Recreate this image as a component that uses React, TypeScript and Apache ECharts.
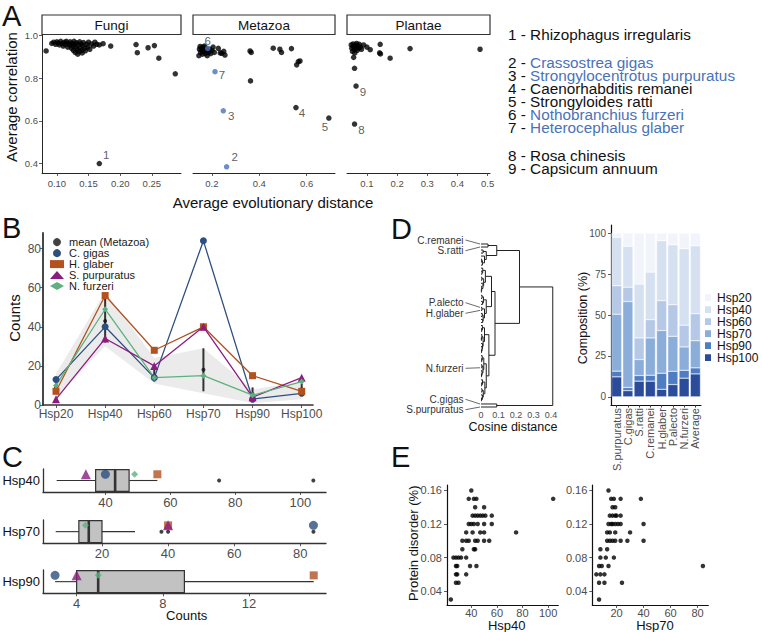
import React, { useEffect, useRef } from "react";
import * as echarts from "echarts";

const FONT = '"Liberation Sans", Arial, Helvetica, sans-serif';
const LABEL_GRAY = "#4d4d4d";
const AXIS_DARK = "#262626";
const BLUE = "#4a72b8";

// ---------------- Panel A data ----------------
const fungiPoints = [
  [0.083, 0.927], [0.092, 0.962], [0.095, 0.968], [0.098, 0.958], [0.1, 0.97], [0.102, 0.964], [0.104, 0.955],
  [0.106, 0.972], [0.108, 0.962], [0.11, 0.95], [0.112, 0.968], [0.113, 0.958], [0.115, 0.972], [0.117, 0.945],
  [0.118, 0.963], [0.12, 0.955], [0.121, 0.97], [0.123, 0.94], [0.124, 0.962], [0.125, 0.95], [0.126, 0.93],
  [0.127, 0.972], [0.128, 0.958], [0.129, 0.92], [0.13, 0.945], [0.131, 0.965], [0.132, 0.935], [0.133, 0.912],
  [0.134, 0.955], [0.135, 0.925], [0.136, 0.97], [0.137, 0.94], [0.138, 0.96], [0.139, 0.93], [0.14, 0.918],
  [0.141, 0.952], [0.142, 0.966], [0.144, 0.94], [0.145, 0.928], [0.147, 0.958], [0.149, 0.945], [0.15, 0.968],
  [0.152, 0.935], [0.155, 0.96], [0.158, 0.95], [0.16, 0.968], [0.163, 0.958],
  [0.167, 0.955], [0.173, 0.961], [0.185, 0.95], [0.225, 0.957], [0.227, 0.919], [0.244, 0.942],
  [0.254, 0.952], [0.261, 0.893], [0.287, 0.82],
];
const metazoaPoints = [
  [0.145, 0.905], [0.147, 0.935], [0.15, 0.948], [0.152, 0.92], [0.155, 0.94], [0.158, 0.93], [0.16, 0.912],
  [0.162, 0.945], [0.165, 0.925], [0.168, 0.95], [0.17, 0.935], [0.172, 0.915], [0.175, 0.94], [0.178, 0.928],
  [0.18, 0.905], [0.186, 0.92], [0.19, 0.935], [0.195, 0.915], [0.2, 0.93], [0.205, 0.945], [0.21, 0.92],
  [0.227, 0.939], [0.235, 0.918], [0.241, 0.916], [0.25, 0.925], [0.255, 0.908],
  [0.361, 0.927], [0.366, 0.92], [0.363, 0.787], [0.459, 0.94], [0.487, 0.935], [0.494, 0.92],
  [0.536, 0.938], [0.558, 0.862], [0.565, 0.877], [0.572, 0.88],
];
const plantaePoints = [
  [0.048, 0.955], [0.05, 0.94], [0.052, 0.925], [0.054, 0.96], [0.056, 0.948], [0.058, 0.935], [0.06, 0.918],
  [0.062, 0.955], [0.064, 0.942], [0.066, 0.962], [0.068, 0.93], [0.07, 0.95], [0.072, 0.94], [0.075, 0.958],
  [0.078, 0.945], [0.082, 0.935], [0.056, 0.897], [0.059, 0.846], [0.089, 0.955], [0.1, 0.945], [0.111, 0.933],
  [0.144, 0.958], [0.142, 0.918], [0.145, 0.913], [0.177, 0.893], [0.243, 0.938], [0.475, 0.935],
];
// labelled points: [distance, correlation, label, highlighted(1=blue)]
const fungiLabeled = [[0.167, 0.4, "1", 0]];
const metazoaLabeled = [
  [0.262, 0.385, "2", 1], [0.248, 0.647, "3", 1], [0.555, 0.662, "4", 0],
  [0.694, 0.613, "5", 0], [0.182, 0.939, "6", 1], [0.213, 0.83, "7", 1],
];
const plantaeLabeled = [[0.059, 0.585, "8", 0], [0.064, 0.763, "9", 0]];
const facetNames = ["Fungi", "Metazoa", "Plantae"];
const speciesKeyA = [
  ["1", "Rhizophagus irregularis", 0],
  ["2", "Crassostrea gigas", 1],
  ["3", "Strongylocentrotus purpuratus", 1],
  ["4", "Caenorhabditis remanei", 0],
  ["5", "Strongyloides ratti", 0],
  ["6", "Nothobranchius furzeri", 1],
  ["7", "Heterocephalus glaber", 1],
  ["8", "Rosa chinesis", 0],
  ["9", "Capsicum annuum", 0],
];

// ---------------- Panel B / C data ----------------
const hspClasses = ["Hsp20", "Hsp40", "Hsp60", "Hsp70", "Hsp90", "Hsp100"];
const cGigas = [13, 40, 14, 84, 3, 6];
const hGlaber = [7, 56, 28, 40, 15, 7];
const sPurpuratus = [3, 34, 20, 40, 4, 14];
const nFurzeri = [10, 49, 14, 15, 5, 12];
const metazoaMean = [9, 43, 15, 18, 5.5, 8];
const metazoaErrLow = [6, 32, 12, 7, 2.5, 5.5];
const metazoaErrHigh = [12, 55, 18, 29, 9, 11];
const ribbonLow = [4, 30, 11, 6, 1, 3];
const ribbonHigh = [16, 58, 24, 29, 8, 12];

// box statistics [min, q1, median, q3, max]
const boxHsp40 = [25, 37, 43, 47.3, 56];
const boxHsp70 = [6, 13, 16, 20, 30];
const boxHsp90 = [3, 4, 5, 9, 15];
const outliersHsp40 = [75, 104];
const outliersHsp70 = [38, 40, 84];
const outliersHsp90: number[] = [];

// ---------------- Panel D data ----------------
const compSpecies = ["S.purpuratus", "C.gigas", "S.ratti", "C.remanei", "H.glaber", "P.alecto", "N.furzeri", "Average"];
const pctHsp100 = [12.2, 3.8, 9.6, 9.6, 4.6, 7.5, 11.4, 14.0];
const pctHsp90 = [3.5, 1.9, 3.4, 3.6, 9.8, 8.1, 4.8, 3.7];
const pctHsp70 = [34.8, 52.5, 9.8, 22.8, 26.1, 21.4, 14.3, 16.6];
const pctHsp60 = [17.4, 8.8, 13.2, 11.2, 18.3, 19.3, 13.3, 16.5];
const pctHsp40 = [29.6, 25.0, 32.9, 29.0, 36.6, 36.6, 46.7, 41.5];
const pctHsp20 = [2.6, 8.1, 31.1, 23.8, 4.6, 7.1, 9.5, 7.7];

// dendrogram: [height, left, right]; leaves are strings
const dendroTree: any = [0.41,
  [0.22,
    [0.09,
      [0.04, "C.remanei", "S.ratti"],
      [0.03, [0.012, "", ""], [0.02, "", [0.008, [0.004, "", ""], ""]]]],
    [0.08,
      [0.06,
        [0.025, [0.01, "", [0.006, "", ""]], [0.015, [0.005, "", ""], [0.011, "", [0.004, "", [0.002, "", ""]]]]],
        [0.03, [0.014, [0.006, "", ""], [0.009, "", ""]], [0.02, [0.005, "P.alecto", "H.glaber"], [0.012, [0.007, "", ""], [0.01, "", ""]]]]],
      [0.045,
        [0.02, [0.008, "", [0.004, "", ""]], [0.012, [0.005, "", [0.002, "", ""]], [0.009, "", [0.006, "", [0.003, "", ""]]]]],
        [0.03,
          [0.016, [0.007, "", [0.004, "", ""]], [0.011, [0.005, "", "N.furzeri"], [0.006, "", [0.003, "", ""]]]],
          [0.022, [0.009, "", [0.004, "", ""]], [0.013, [0.006, "", ""], [0.008, "", [0.003, "", ""]]]]]]]],
  [0.09, "C.gigas", "S.purpuratus"]];

// ---------------- Panel E data ----------------
const hsp40Disorder = [
  [24, 0.03], [28, 0.05], [30, 0.05], [28, 0.06], [29, 0.06], [36, 0.06], [28, 0.07], [29, 0.07], [39, 0.07], [44, 0.07],
  [26, 0.08], [28, 0.08], [30, 0.08], [32, 0.08], [36, 0.08], [33, 0.09], [42, 0.09], [43, 0.09],
  [33, 0.1], [36, 0.1], [38, 0.1], [43, 0.1], [45, 0.1], [50, 0.1], [54, 0.1],
  [36, 0.11], [41, 0.11], [47, 0.11], [50, 0.11], [75, 0.11],
  [38, 0.12], [40, 0.12], [42, 0.12], [45, 0.12], [50, 0.12], [56, 0.12],
  [41, 0.13], [43, 0.13], [45, 0.13], [47, 0.13], [49, 0.13], [51, 0.13], [56, 0.13],
  [43, 0.14], [50, 0.14], [38, 0.15], [42, 0.15], [44, 0.15], [104, 0.15], [40, 0.16],
];
const hsp70Disorder = [
  [7, 0.03], [7, 0.05], [11, 0.05], [24, 0.05], [5, 0.06], [8, 0.06], [11, 0.06], [7, 0.07], [9, 0.07], [14, 0.07], [84, 0.07],
  [8, 0.08], [12, 0.08], [18, 0.08], [8, 0.09], [13, 0.09],
  [13, 0.1], [15, 0.1], [17, 0.1], [19, 0.1], [23, 0.1], [28, 0.1], [40, 0.1],
  [13, 0.11], [15, 0.11], [19, 0.11], [30, 0.11],
  [14, 0.12], [16, 0.12], [17, 0.12], [19, 0.12], [21, 0.12], [23, 0.12], [40, 0.12],
  [15, 0.13], [17, 0.13], [19, 0.13], [20, 0.13], [23, 0.13], [17, 0.14], [19, 0.14],
  [16, 0.15], [18, 0.15], [23, 0.15], [38, 0.15], [14, 0.16],
];

// ---------------- styles ----------------
const COL_GIGAS = "#2d4f7f";
const COL_GLABER = "#b3521f";
const COL_PURP = "#8b1d7e";
const COL_FURZ = "#5eb17f";
const HSP_COLORS: any = {
  Hsp20: "#f1f4fa", Hsp40: "#d5e1f1", Hsp60: "#b5c9e6", Hsp70: "#8badda", Hsp90: "#4f7dc1", Hsp100: "#2a4c9a",
};
const labelOffsets: any = {
  "1": [7, -9], "2": [8, -10], "3": [8, 5], "4": [6, 5], "5": [-4, 9], "6": [0, -7], "7": [7, 3], "8": [7, 6], "9": [7, 6],
};
const dendroLabelY: any = {
  "C.remanei": 240, "S.ratti": 250.7, "P.alecto": 302.7, "H.glaber": 313.3,
  "N.furzeri": 368.3, "C.gigas": 399.3, "S.purpuratus": 409.7,
};

function measureText(t: string, size: number) {
  try {
    const ctx = document.createElement("canvas").getContext("2d") as CanvasRenderingContext2D;
    ctx.font = `${size}px "Liberation Sans", Arial, sans-serif`;
    return ctx.measureText(t).width;
  } catch (e) {
    return t.length * size * 0.45;
  }
}

function vAxis(gridIndex: number, min: number, max: number, ticks: number[], fmt: any, o: any = {}) {
  return {
    type: "value", gridIndex, min, max, inverse: !!o.inverse,
    axisLine: { show: o.line !== false, onZero: false, lineStyle: { color: o.lineColor || AXIS_DARK, width: o.lineWidth || 1 } },
    axisTick: { show: o.tick !== false, customValues: ticks, length: o.tickLen || 3, lineStyle: { color: "#333", width: 0.8 } },
    axisLabel: {
      show: o.label !== false, customValues: ticks, formatter: fmt, fontSize: o.fontSize || 10,
      color: o.labelColor || LABEL_GRAY, margin: o.margin ?? 4, fontFamily: FONT, hideOverlap: false,
    },
    splitLine: { show: false },
  };
}

function layoutDendro(tree: any) {
  const links: number[][] = [];
  const leaves: { name: string; idx: number }[] = [];
  let counter = 0;
  const walk = (n: any): { y: number; h: number } => {
    if (typeof n === "string") {
      const i = counter++;
      leaves.push({ name: n, idx: i });
      return { y: i, h: 0 };
    }
    const L = walk(n[1]);
    const R = walk(n[2]);
    links.push([n[0], L.y, R.y, L.h, R.h]);
    return { y: (L.y + R.y) / 2, h: n[0] };
  };
  walk(tree);
  return { links, leaves, count: counter };
}

function txt(text: string, x: number, y: number, size: number, extra: any = {}) {
  return {
    type: "text", x, y, rotation: extra.rotation || 0, silent: true,
    style: {
      text, fontSize: size, fontFamily: FONT, fill: extra.fill || "#111",
      align: extra.align || "center", verticalAlign: "middle",
    },
  };
}

function buildOption() {
  const grids: any[] = [
    { left: 42, top: 34.5, width: 139, height: 138.5 }, // 0 Fungi
    { left: 193, top: 34.5, width: 142, height: 138.5 }, // 1 Metazoa
    { left: 347, top: 34.5, width: 143, height: 138.5 }, // 2 Plantae
    { left: 43, top: 233, width: 270, height: 172 }, // 3 B
    { left: 43, top: 469, width: 283, height: 23 }, // 4 C Hsp40
    { left: 43, top: 520, width: 283, height: 23.3 }, // 5 C Hsp70
    { left: 43, top: 570, width: 283, height: 23.3 }, // 6 C Hsp90
    { left: 481, top: 244, width: 73.5, height: 163 }, // 7 dendrogram
    { left: 611, top: 225, width: 90, height: 180 }, // 8 composition
    { left: 447, top: 485, width: 111.3, height: 120 }, // 9 E Hsp40
    { left: 592.3, top: 485, width: 116, height: 120 }, // 10 E Hsp70
  ].map((g) => ({ ...g, containLabel: false, outerBoundsMode: "none" }));

  const f2 = (v: number) => v.toFixed(2);
  const f1 = (v: number) => v.toFixed(1);
  const fInt = (v: number) => String(Math.round(v));
  const corrTicks = [0.4, 0.6, 0.8, 1.0];

  const dendro = layoutDendro(dendroTree);

  const xAxis: any[] = [
    vAxis(0, 0.0765, 0.296, [0.1, 0.15, 0.2, 0.25], f2, { fontSize: 9.5, margin: 5 }),
    vAxis(1, 0.12, 0.72, [0.2, 0.4, 0.6], f1, { fontSize: 9.5, margin: 5 }),
    vAxis(2, 0.034, 0.508, [0.1, 0.2, 0.3, 0.4, 0.5], f1, { fontSize: 9.5, margin: 5 }),
    vAxis(3, -0.2645, 5.23, [0, 1, 2, 3, 4, 5], (v: number) => hspClasses[Math.round(v)], { fontSize: 12, margin: 2.5, lineWidth: 1.6, lineColor: "#333" }),
    vAxis(4, 20.8, 107.9, [40, 60, 80, 100], fInt, { fontSize: 13, margin: 3.5, lineWidth: 1.3, lineColor: "#333" }),
    vAxis(5, 2.15, 87.8, [20, 40, 60, 80], fInt, { fontSize: 13, margin: 3.5, lineWidth: 1.3, lineColor: "#333" }),
    vAxis(6, 2.44, 15.57, [4, 8, 12], fInt, { fontSize: 13, margin: 3.5, lineWidth: 1.3, lineColor: "#333" }),
    vAxis(7, 0, 0.42, [0, 0.1, 0.2, 0.3, 0.4], (v: number) => (v === 0 ? "0" : v.toFixed(1)), { fontSize: 9, margin: 3, line: false, tick: false }),
    {
      type: "category", gridIndex: 8, data: compSpecies,
      axisLine: { show: true, onZero: false, lineStyle: { color: "#111", width: 1.2 } },
      axisTick: { show: true, length: 2.5, alignWithLabel: true, lineStyle: { color: "#333" } },
      axisLabel: { rotate: 90, interval: 0, fontSize: 11, color: LABEL_GRAY, margin: 3, fontFamily: FONT, hideOverlap: false },
      splitLine: { show: false },
    },
    vAxis(9, 21, 108, [40, 60, 80, 100], fInt, { fontSize: 11, margin: 2, lineColor: "#111", lineWidth: 1.2 }),
    vAxis(10, 2, 88, [20, 40, 60, 80], fInt, { fontSize: 11, margin: 2, lineColor: "#111", lineWidth: 1.2 }),
  ];

  const yAxis: any[] = [
    vAxis(0, 0.356, 1.004, corrTicks, f1, { fontSize: 9.5, margin: 4 }),
    vAxis(1, 0.356, 1.004, corrTicks, f1, { line: false, tick: false, label: false }),
    vAxis(2, 0.356, 1.004, corrTicks, f1, { line: false, tick: false, label: false }),
    vAxis(3, 0, 88, [0, 20, 40, 60, 80], fInt, { fontSize: 12, margin: 2, lineWidth: 1.8, lineColor: "#333" }),
    vAxis(4, 0, 1, [0.5], () => "Hsp40", { fontSize: 13, margin: 3, labelColor: "#111", tick: false, lineWidth: 1.3, lineColor: "#333" }),
    vAxis(5, 0, 1, [0.5], () => "Hsp70", { fontSize: 13, margin: 3, labelColor: "#111", tick: false, lineWidth: 1.3, lineColor: "#333" }),
    vAxis(6, 0, 1, [0.5], () => "Hsp90", { fontSize: 13, margin: 3, labelColor: "#111", tick: false, lineWidth: 1.3, lineColor: "#333" }),
    vAxis(7, 0, dendro.count - 1, [0], () => "", { line: false, tick: false, label: false, inverse: true }),
    vAxis(8, -5, 105, [0, 25, 50, 75, 100], fInt, { fontSize: 10, margin: 5, lineColor: "#111", lineWidth: 1.2 }),
    vAxis(9, 0.0235, 0.1665, [0.04, 0.08, 0.12, 0.16], f2, { fontSize: 11, margin: 5, lineColor: "#111", lineWidth: 1.2 }),
    vAxis(10, 0.0235, 0.1665, [0.04, 0.08, 0.12, 0.16], f2, { fontSize: 11, margin: 5, lineColor: "#111", lineWidth: 1.2 }),
  ];

  const series: any[] = [];

  // ---- Panel A
  const facetData = [
    [fungiPoints, fungiLabeled],
    [metazoaPoints, metazoaLabeled],
    [plantaePoints, plantaeLabeled],
  ];
  facetData.forEach(([pts, lab]: any, i: number) => {
    series.push({
      type: "scatter", xAxisIndex: i, yAxisIndex: i, data: pts, symbolSize: 5.5,
      itemStyle: { color: "#000" }, silent: true,
    });
    series.push({
      type: "scatter", xAxisIndex: i, yAxisIndex: i, symbolSize: 5.5, silent: true,
      label: { show: true, position: "inside", fontSize: 11.5, color: "#333", fontFamily: FONT },
      data: lab.map((d: any) => ({
        value: [d[0], d[1]],
        itemStyle: { color: d[3] ? BLUE : "#000" },
        label: { formatter: d[2], offset: labelOffsets[d[2]] },
      })),
    });
  });

  // ---- Panel B
  series.push({
    type: "custom", xAxisIndex: 3, yAxisIndex: 3, data: [[0, 0]], silent: true,
    renderItem: (_p: any, api: any) => {
      const pts: number[][] = [];
      ribbonHigh.forEach((v, i) => pts.push(api.coord([i, v])));
      for (let i = ribbonLow.length - 1; i >= 0; i--) pts.push(api.coord([i, ribbonLow[i]]));
      return { type: "polygon", shape: { points: pts }, style: { fill: "#ebebeb" } };
    },
  });
  series.push({
    type: "custom", xAxisIndex: 3, yAxisIndex: 3, silent: true,
    data: metazoaErrLow.map((lo, i) => [i, lo, metazoaErrHigh[i]]),
    renderItem: (_p: any, api: any) => {
      const a = api.coord([api.value(0), api.value(1)]);
      const b = api.coord([api.value(0), api.value(2)]);
      return { type: "line", shape: { x1: a[0], y1: a[1], x2: b[0], y2: b[1] }, style: { stroke: "#333", lineWidth: 2 } };
    },
  });
  series.push({
    name: "mean (Metazoa)", type: "scatter", xAxisIndex: 3, yAxisIndex: 3, symbolSize: 4,
    itemStyle: { color: "#111" }, data: metazoaMean.map((v, i) => [i, v]), silent: true,
  });
  const bLines = [
    ["C. gigas", cGigas, COL_GIGAS, "circle", 7],
    ["H. glaber", hGlaber, COL_GLABER, "rect", 7],
    ["S. purpuratus", sPurpuratus, COL_PURP, "triangle", 8],
    ["N. furzeri", nFurzeri, COL_FURZ, "diamond", 6],
  ];
  bLines.forEach(([name, vals, col, sym, size]: any) => {
    series.push({
      name, type: "line", xAxisIndex: 3, yAxisIndex: 3, data: vals.map((v: number, i: number) => [i, v]),
      symbol: sym, symbolSize: size, showSymbol: true, itemStyle: { color: col }, lineStyle: { color: col, width: 1.3 },
      silent: true,
    });
  });

  // ---- Panel C
  const cRows = [
    [4, boxHsp40, outliersHsp40, 1],
    [5, boxHsp70, outliersHsp70, 3],
    [6, boxHsp90, outliersHsp90, 4],
  ];
  cRows.forEach(([g, box, outl, k]: any) => {
    series.push({
      type: "custom", xAxisIndex: g, yAxisIndex: g, data: [box], silent: true,
      encode: { x: [0, 1, 2, 3, 4] },
      renderItem: (_p: any, api: any) => {
        const v = [0, 1, 2, 3, 4].map((j) => api.value(j));
        const c = (x: number, y: number) => api.coord([x, y]);
        const mid = c(v[0], 0.5)[1];
        const tl = c(v[1], 0.97);
        const br = c(v[3], 0.03);
        const m1 = c(v[2], 0.97);
        const m2 = c(v[2], 0.03);
        return {
          type: "group",
          children: [
            { type: "line", shape: { x1: c(v[0], 0.5)[0], y1: mid, x2: tl[0], y2: mid }, style: { stroke: "#333", lineWidth: 1.1 } },
            { type: "line", shape: { x1: br[0], y1: mid, x2: c(v[4], 0.5)[0], y2: mid }, style: { stroke: "#333", lineWidth: 1.1 } },
            { type: "rect", shape: { x: tl[0], y: tl[1], width: br[0] - tl[0], height: br[1] - tl[1] }, style: { fill: "#c2c2c2", stroke: "#333", lineWidth: 1.2 } },
            { type: "line", shape: { x1: m1[0], y1: m1[1], x2: m2[0], y2: m2[1] }, style: { stroke: "#333", lineWidth: 2.6 } },
          ],
        };
      },
    });
    series.push({
      type: "scatter", xAxisIndex: g, yAxisIndex: g, symbolSize: 4, itemStyle: { color: "#111" }, silent: true,
      data: outl.map((o: number) => [o, 0.5]),
    });
    series.push({
      type: "scatter", xAxisIndex: g, yAxisIndex: g, silent: true,
      data: [
        { value: [cGigas[k], 0.77], symbol: "circle", symbolSize: 9, itemStyle: { color: COL_GIGAS } },
        { value: [hGlaber[k], 0.77], symbol: "rect", symbolSize: 8, itemStyle: { color: COL_GLABER } },
        { value: [sPurpuratus[k], 0.77], symbol: "triangle", symbolSize: 10, itemStyle: { color: COL_PURP } },
        { value: [nFurzeri[k], 0.77], symbol: "diamond", symbolSize: 7, itemStyle: { color: COL_FURZ } },
      ],
    });
  });

  // ---- Panel D dendrogram
  series.push({
    type: "custom", xAxisIndex: 7, yAxisIndex: 7, silent: true, data: dendro.links,
    encode: { x: [0, 3, 4], y: [1, 2] },
    renderItem: (_p: any, api: any) => {
      const h = api.value(0), yL = api.value(1), yR = api.value(2), hL = api.value(3), hR = api.value(4);
      const pts = [api.coord([hL, yL]), api.coord([h, yL]), api.coord([h, yR]), api.coord([hR, yR])];
      return { type: "polyline", shape: { points: pts }, style: { stroke: "#222", lineWidth: 1, fill: null } };
    },
  });
  series.push({
    type: "custom", xAxisIndex: 7, yAxisIndex: 7, silent: true,
    data: dendro.leaves.filter((l) => l.name).map((l) => [0, l.idx, dendroLabelY[l.name]]),
    renderItem: (_p: any, api: any) => {
      const leaf = api.coord([0, api.value(1)]);
      const ly = api.value(2);
      const name = dendro.leaves.find((l) => l.idx === api.value(1))!.name;
      return {
        type: "group",
        children: [
          { type: "line", shape: { x1: 465.5, y1: ly, x2: leaf[0] - 1, y2: leaf[1] }, style: { stroke: "#444", lineWidth: 0.8 } },
          { type: "text", x: 463.5, y: ly, style: { text: name, fontSize: 10, fontFamily: FONT, fill: "#333", align: "right", verticalAlign: "middle" } },
        ],
      };
    },
  });

  // ---- Panel D composition bars (bottom to top)
  const stackOrder = [
    ["Hsp100", pctHsp100], ["Hsp90", pctHsp90], ["Hsp70", pctHsp70],
    ["Hsp60", pctHsp60], ["Hsp40", pctHsp40], ["Hsp20", pctHsp20],
  ];
  stackOrder.forEach(([name, vals]: any) => {
    series.push({
      name, type: "bar", stack: "comp", xAxisIndex: 8, yAxisIndex: 8, data: vals, barCategoryGap: "10%",
      itemStyle: { color: HSP_COLORS[name], borderColor: "#fff", borderWidth: 0.4 }, silent: true,
    });
  });

  // ---- Panel E
  series.push({ type: "scatter", xAxisIndex: 9, yAxisIndex: 9, data: hsp40Disorder, symbolSize: 4.5, itemStyle: { color: "#000" }, silent: true });
  series.push({ type: "scatter", xAxisIndex: 10, yAxisIndex: 10, data: hsp70Disorder, symbolSize: 4.5, itemStyle: { color: "#000" }, silent: true });

  // ---- graphic: letters, strips, titles, A key
  const graphic: any[] = [];
  [["A", 2, 16], ["B", 2, 228], ["C", 2, 457], ["D", 391, 229], ["E", 391, 457]].forEach(([t, x, y]: any) =>
    graphic.push(txt(t, x, y, 29, { align: "left", fill: "#111" })));
  grids.slice(0, 3).forEach((g, i) => {
    graphic.push({ type: "rect", silent: true, shape: { x: g.left, y: 15, width: g.width, height: 19.5 }, style: { fill: "#fff", stroke: "#333", lineWidth: 1.2 } });
    graphic.push(txt(facetNames[i], g.left + g.width / 2, 25, 13.5));
  });
  graphic.push(txt("Average evolutionary distance", 273, 202, 15));
  graphic.push(txt("Average correlation", 11, 97, 15, { rotation: Math.PI / 2 }));
  const keyY = [34, 62, 75, 88, 101, 114, 127, 155, 168];
  const KEY_SIZE = 15.3;
  const KEY_X = 508;
  speciesKeyA.forEach(([n, s, b]: any, i: number) => {
    const prefix = `${n} - `;
    const w = measureText(prefix, KEY_SIZE);
    graphic.push(txt(prefix, KEY_X, keyY[i], KEY_SIZE, { align: "left", fill: "#111" }));
    graphic.push(txt(s, KEY_X + w, keyY[i], KEY_SIZE, { align: "left", fill: b ? BLUE : "#111" }));
  });
  graphic.push(txt("Counts", 14, 318, 15, { rotation: Math.PI / 2 }));
  graphic.push(txt("Counts", 186.7, 615.7, 13));
  graphic.push(txt("Cosine distance", 513, 426.7, 12.5));
  graphic.push(txt("Composition (%)", 583.3, 318, 12.5, { rotation: Math.PI / 2 }));
  graphic.push(txt("Protein disorder (%)", 413.3, 543.3, 13, { rotation: Math.PI / 2 }));
  graphic.push(txt("Hsp40", 506.7, 625, 13));
  graphic.push(txt("Hsp70", 655, 625, 13));

  return {
    animation: false,
    backgroundColor: "#fff",
    textStyle: { fontFamily: FONT },
    grid: grids,
    xAxis,
    yAxis,
    legend: [
      {
        data: [
          { name: "mean (Metazoa)", icon: "circle" },
          { name: "C. gigas", icon: "circle" },
          { name: "H. glaber", icon: "rect" },
          { name: "S. purpuratus", icon: "triangle" },
          { name: "N. furzeri", icon: "diamond" },
        ],
        orient: "vertical", left: 50, top: 236.6, padding: 0, itemGap: 0, itemWidth: 14, itemHeight: 8,
        selectedMode: false, textStyle: { fontSize: 11, lineHeight: 10.7, color: "#1a1a1a", fontFamily: FONT },
      },
      {
        data: ["Hsp20", "Hsp40", "Hsp60", "Hsp70", "Hsp90", "Hsp100"],
        orient: "vertical", left: 703, top: 291.7, padding: 0, itemGap: 0, itemWidth: 8, itemHeight: 8.66,
        icon: "rect", selectedMode: false,
        textStyle: { fontSize: 12, lineHeight: 8.66, color: "#111", fontFamily: FONT },
      },
    ],
    series,
    graphic,
  };
}

export default function App() {
  const ref = useRef<HTMLDivElement>(null);
  useEffect(() => {
    const el = ref.current as HTMLDivElement;
    const chart = echarts.init(el, null, { renderer: "svg", width: 762, height: 632 });
    chart.setOption(buildOption() as any);
    return () => chart.dispose();
  }, []);
  return (
    <div
      ref={ref}
      style={{ position: "fixed", left: 0, top: 0, width: 762, height: 632, background: "#fff" }}
    />
  );
}
